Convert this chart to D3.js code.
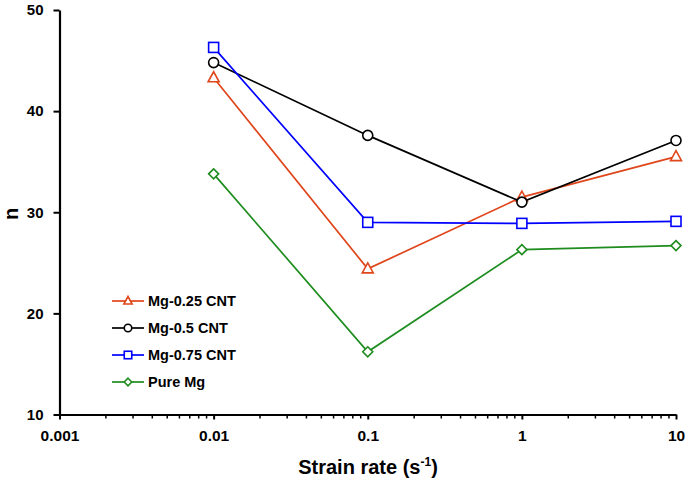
<!DOCTYPE html>
<html><head><meta charset="utf-8">
<script src="https://cdn.jsdelivr.net/npm/d3@7"></script>
<style>body{margin:0;background:#fff;} text{font-family:Arial,"Liberation Sans",sans-serif;font-weight:bold;}</style>
</head><body>
<svg id="c" width="685" height="488"></svg>
<script>
const strainRates = [0.01, 0.1, 1, 10];
const seriesNames = ["Mg-0.25 CNT", "Mg-0.5 CNT", "Mg-0.75 CNT", "Pure Mg"];
const mg025 = [43.3, 24.4, 31.5, 35.5];
const mg05 = [44.8, 37.6, 31.0, 37.1];
const mg075 = [46.3, 29.0, 28.9, 29.1];
const pureMg = [33.8, 16.2, 26.3, 26.7];
const xTickLabels = ["0.001", "0.01", "0.1", "1", "10"];
const yTickLabels = [10, 20, 30, 40, 50];

const series = [
  {name: seriesNames[0], values: mg025, color: "#E0461B", shape: "triangle"},
  {name: seriesNames[1], values: mg05, color: "#000000", shape: "circle"},
  {name: seriesNames[2], values: mg075, color: "#0000FF", shape: "square"},
  {name: seriesNames[3], values: pureMg, color: "#1E8C1E", shape: "diamond"}
];

const svg = d3.select("#c");
const L = 59.5, R = 676, T = 10, B = 414.5;
const x = d3.scaleLog().domain([0.001, 10]).range([L, R]);
const y = d3.scaleLinear().domain([10, 50]).range([B, T]);

// minor x ticks
const minor = [];
for (let e = -3; e < 1; e++) for (let m = 2; m <= 9; m++) minor.push(m * Math.pow(10, e));
svg.append("g").selectAll("line").data(minor).join("line")
  .attr("x1", d => x(d)).attr("x2", d => x(d)).attr("y1", B).attr("y2", B + 4)
  .attr("stroke", "#000").attr("stroke-width", 1.5);

// x axis
const xAxis = svg.append("g").attr("transform", `translate(0,${B})`)
  .call(d3.axisBottom(x).tickValues(xTickLabels.map(Number)).tickFormat((d, i) => xTickLabels[i]).tickSize(5).tickSizeOuter(0));
xAxis.select(".domain").attr("stroke-width", 2.2);
xAxis.selectAll(".tick line").attr("stroke-width", 2);
xAxis.selectAll("text").attr("font-size", 15.5).attr("y", 26).attr("dy", 0).attr("fill", "#000");

// y axis
const yAxis = svg.append("g").attr("transform", `translate(${L},0)`)
  .call(d3.axisLeft(y).tickValues(yTickLabels).tickFormat(d3.format("d")).tickSize(6).tickSizeOuter(0));
yAxis.select(".domain").attr("stroke-width", 2.2);
yAxis.selectAll(".tick line").attr("stroke-width", 2);
yAxis.selectAll("text").attr("font-size", 15).attr("x", -16).attr("fill", "#000");

// axis titles
svg.append("text").attr("transform", "translate(18,214) rotate(-90)")
  .attr("text-anchor", "middle").attr("font-size", 20).text("n");
const xt = svg.append("text").attr("x", 368).attr("y", 474).attr("text-anchor", "middle").attr("font-size", 20);
xt.append("tspan").text("Strain rate (s");
xt.append("tspan").attr("font-size", 12).attr("dy", -8).text("-1");
xt.append("tspan").attr("dy", 8).text(")");

function marker(g, shape, cx, cy, color, k) {
  const s = 5 * k;
  let el;
  if (shape === "circle") el = g.append("circle").attr("cx", cx).attr("cy", cy).attr("r", s);
  else if (shape === "square") el = g.append("rect").attr("x", cx - s).attr("y", cy - s).attr("width", 2 * s).attr("height", 2 * s);
  else if (shape === "triangle") el = g.append("path").attr("d", `M${cx},${cy - 6 * k}L${cx + 5.5 * k},${cy + 4 * k}L${cx - 5.5 * k},${cy + 4 * k}Z`);
  else el = g.append("path").attr("d", `M${cx},${cy - s}L${cx + s},${cy}L${cx},${cy + s}L${cx - s},${cy}Z`);
  el.attr("fill", "#fff").attr("stroke", color).attr("stroke-width", 1.6);
}

const line = d3.line().x(d => x(d[0])).y(d => y(d[1]));
series.forEach(s => {
  const pts = strainRates.map((r, i) => [r, s.values[i]]);
  const g = svg.append("g");
  g.append("path").attr("d", line(pts)).attr("fill", "none").attr("stroke", s.color).attr("stroke-width", 1.7);
  pts.forEach(p => marker(g, s.shape, x(p[0]), y(p[1]), s.color, 1));
});

// legend
const legY = [301, 328, 355, 382];
series.forEach((s, i) => {
  const g = svg.append("g");
  g.append("line").attr("x1", 112).attr("x2", 144).attr("y1", legY[i]).attr("y2", legY[i])
    .attr("stroke", s.color).attr("stroke-width", 1.7);
  marker(g, s.shape, 128, legY[i], s.color, 0.75);
  g.append("text").attr("x", 148).attr("y", legY[i]).attr("dy", "0.36em").attr("font-size", 14.5).text(s.name);
});
</script>
</body></html>
